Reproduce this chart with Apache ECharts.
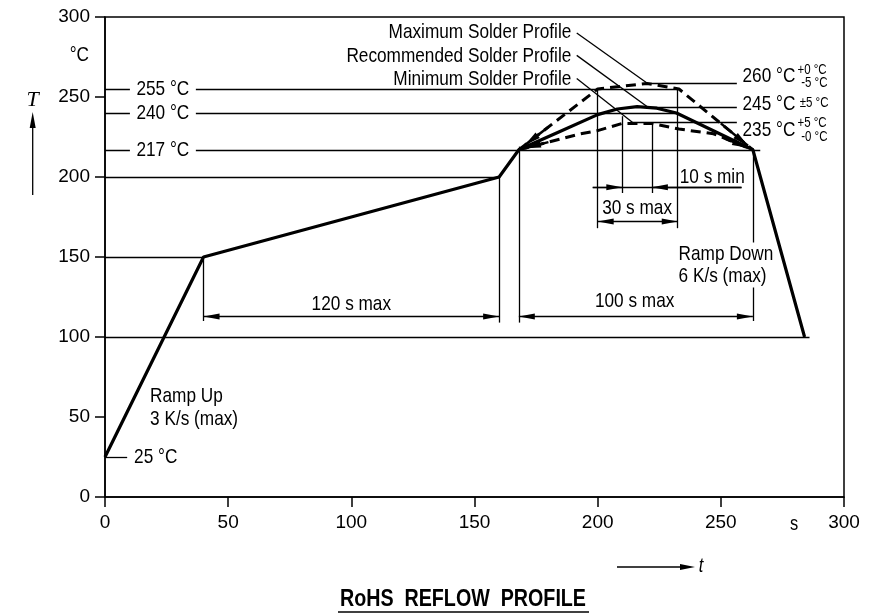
<!DOCTYPE html>
<html><head><meta charset="utf-8">
<script src="https://cdn.jsdelivr.net/npm/echarts@6/dist/echarts.min.js"></script>
<style>html,body{margin:0;padding:0;background:#fff}#c{width:884px;height:615px}</style>
</head><body><div id="c"></div>
<script>
const FONT = "'Liberation Sans',Arial,sans-serif";
const NARROW = 0.82; // horizontal squeeze to imitate a narrow face
// axis ticks
const xTicks = [0, 50, 100, 150, 200, 250, 300];
const yTicks = [0, 50, 100, 150, 200, 250, 300];
// main (solid) profile incl. recommended peak
const mainTime = [0, 40, 160, 168, 184, 200, 208, 216, 224, 232, 263, 284];
const mainTemp = [25, 150, 200, 217, 228, 239, 242.5, 244, 243, 240, 217, 100];
// maximum solder profile (dashed)
const maxTime = [168, 200, 220, 233, 263];
const maxTemp = [217, 255, 258.5, 255, 217];
// minimum solder profile (dashed)
const minTime = [168, 193, 200, 210, 222, 233, 247, 263];
const minTemp = [217, 227, 229, 233.5, 233.5, 230, 227, 217];
// horizontal reference lines: [temp, tFrom, tTo]
const hLines = [[25,0,9],[100,0,286],[150,0,40],[200,0,160],[217,0,266],[240,0,232],[255,0,232.5],[258.5,220,256.5],[243.5,221,256.5],[234,214,256.5]];
// vertical reference lines: [time, tempFrom, tempTo]
const vLines = [[40,150,110],[160,200,109],[168,219,109],[263,217,110],[200,255,168],[210,238,190],[222,234,190],[232.5,255,168]];
// leader lines: [t1, T1, t2, T2]
const leaders = [[191.5,290,220.3,258.4],[191.5,276,221,243],[191.5,261.5,214.2,234]];
// dimension arrows (outward heads): [temp, tFrom, tTo]
const dims = [[112.8,40,160],[112.8,168,263],[172.2,200,232.5]];
// "10 s min" dimension: [temp, lineFrom, lineTo, arrowA, arrowB]
const minDim = [193.6, 198, 258.4, 210, 222];
// arrowheads at the ends of the dashed profiles: [tFrom, TFrom, tTip, TTip]
const dashArrows = [[180,231.3,170.5,220],[180,221.8,170.5,218],[250,233.5,261,219.5],[252,223.9,261,218.3]];
// text annotations: [text, time, temp, align, size, whiteBgPadding]
const notes = [
  ['255 °C', 23.5, 255, 'center', 21, 8],
  ['240 °C', 23.5, 240, 'center', 21, 8],
  ['217 °C', 23.5, 217, 'center', 21, 8],
  ['25 °C', 11.8, 25, 'left', 21, 0],
  ['Ramp Up', 18.3, 63.1, 'left', 21, 0],
  ['3 K/s (max)', 18.3, 48.7, 'left', 21, 0],
  ['120 s max', 100, 120.6, 'center', 21, 0],
  ['100 s max', 215, 122.5, 'center', 21, 0],
  ['30 s max', 216, 180.6, 'center', 21, 0],
  ['10 s min', 233.3, 199.7, 'left', 21, 0],
  ['Ramp Down', 232.5, 151.9, 'left', 21, 1],
  ['6 K/s (max)', 232.5, 138.1, 'left', 21, 1],
  ['Maximum Solder Profile', 189.3, 290.3, 'right', 21, 0],
  ['Recommended Solder Profile', 189.3, 275.6, 'right', 21, 0],
  ['Minimum Solder Profile', 189.3, 261.3, 'right', 21, 0],
  ['260 °C', 258.8, 262.8, 'left', 21, 0],
  ['+0 °C', 281.1, 266.6, 'left', 14, 0],
  ['-5 °C', 282.6, 258.4, 'left', 14, 0],
  ['245 °C', 258.8, 245.3, 'left', 21, 0],
  ['±5 °C', 282, 246.3, 'left', 14, 0],
  ['235 °C', 258.8, 229.4, 'left', 21, 0],
  ['+5 °C', 281.1, 233.4, 'left', 14, 0],
  ['-0 °C', 282.6, 224.7, 'left', 14, 0]
];

const P = (ts, Ts) => ts.map((t, i) => [t, Ts[i]]);
const ARROW = 'path://M0,0L3,16L-3,16Z M0,-16L0,-16';
const AS = [6, 32];
const AS2 = [7, 32];

const segs = [];
hLines.forEach(([T, a, b]) => segs.push([{coord: [a, T]}, {coord: [b, T]}]));
vLines.forEach(([t, a, b]) => segs.push([{coord: [t, a]}, {coord: [t, b]}]));
leaders.forEach(([a, b, c, d]) => segs.push([{coord: [a, b]}, {coord: [c, d]}]));
dims.forEach(([T, a, b]) => segs.push([{coord: [a, T], symbol: ARROW, symbolSize: AS}, {coord: [b, T], symbol: ARROW, symbolSize: AS}]));
segs.push([{coord: [minDim[1], minDim[0]]}, {coord: [minDim[2], minDim[0]]}]);
segs.push([{coord: [minDim[1], minDim[0]]}, {coord: [minDim[3], minDim[0]], symbol: ARROW, symbolSize: AS}]);
segs.push([{coord: [minDim[2], minDim[0]]}, {coord: [minDim[4], minDim[0]], symbol: ARROW, symbolSize: AS}]);
const arrowSegs = dashArrows.map(([a, b, c, d]) => [{coord: [a, b]}, {coord: [c, d], symbol: ARROW, symbolSize: AS2}]);

const axisCommon = {
  type: 'value', min: 0, max: 300, interval: 50,
  axisLine: {show: true, onZero: false, lineStyle: {color: '#000', width: 1.5}},
  axisTick: {show: true, length: 10, lineStyle: {color: '#000', width: 1.5}},
  splitLine: {show: false}
};

const chart = echarts.init(document.getElementById('c'));
chart.setOption({
  animation: false,
  backgroundColor: '#fff',
  grid: {left: 105, right: 40, top: 17, bottom: 118, show: true, borderColor: '#000', borderWidth: 1.5},
  xAxis: Object.assign({}, axisCommon, {
    axisLabel: {color: '#000', fontFamily: FONT, fontSize: 19, margin: 16,
      formatter: v => xTicks.includes(v) ? String(v) : ''}
  }),
  yAxis: Object.assign({}, axisCommon, {
    axisLabel: {color: '#000', fontFamily: FONT, fontSize: 19, margin: 15,
      formatter: v => yTicks.includes(v) ? String(v) : ''}
  }),
  series: [
    {
      name: 'refs', type: 'line', data: [], silent: true,
      markLine: {
        silent: true, symbol: 'none', animation: false,
        label: {show: false},
        lineStyle: {color: '#000', width: 1.3, type: 'solid'},
        emphasis: {disabled: true},
        data: segs
      }
    },
    {
      name: 'Maximum Solder Profile', type: 'line', data: P(maxTime, maxTemp), showSymbol: false, silent: true, z: 4,
      lineStyle: {color: '#000', width: 3, type: [10, 6]},
      markLine: {
        silent: true, symbol: 'none', animation: false, label: {show: false},
        lineStyle: {color: '#000', width: 2.5, type: 'solid'},
        emphasis: {disabled: true},
        data: arrowSegs
      }
    },
    {
      name: 'Minimum Solder Profile', type: 'line', data: P(minTime, minTemp), showSymbol: false, silent: true, z: 4,
      lineStyle: {color: '#000', width: 3, type: [10, 6]}
    },
    {
      name: 'Recommended Solder Profile', type: 'line', data: P(mainTime, mainTemp), showSymbol: false, silent: true, z: 5,
      lineStyle: {color: '#000', width: 3.2}
    }
  ]
});

function txt(text, x, y, align, size, pad, extra) {
  const style = {text: text, fill: '#000', font: (extra || '') + size + 'px ' + FONT,
    textAlign: align, textVerticalAlign: 'middle'};
  if (pad) { style.backgroundColor = '#fff'; style.padding = [1, pad]; }
  return {type: 'text', x: x, y: y, scaleX: NARROW, scaleY: 1, z: 100, style: style};
}
const g = [];
notes.forEach(([text, t, T, align, size, pad]) => {
  const p = chart.convertToPixel({gridIndex: 0}, [t, T]);
  g.push(txt(text, p[0], p[1], align, size, pad));
});
g.push(txt('°C', 89, 55.5, 'right', 21, 0));
g.push({type: 'text', x: 32.5, y: 100.5, z: 100, style: {text: 'T', fill: '#000', font: "italic 22px 'Liberation Serif','DejaVu Serif',serif", textAlign: 'center', textVerticalAlign: 'middle'}});
g.push({type: 'line', shape: {x1: 32.7, y1: 195, x2: 32.7, y2: 124}, style: {stroke: '#000', lineWidth: 1.3}});
g.push({type: 'polygon', shape: {points: [[32.7, 112], [35.7, 128], [29.7, 128]]}, style: {fill: '#000'}});
g.push(txt('s', 794, 524, 'center', 20, 0));
g.push({type: 'line', shape: {x1: 617, y1: 567, x2: 684, y2: 567}, style: {stroke: '#000', lineWidth: 1.3}});
g.push({type: 'polygon', shape: {points: [[695, 567], [680, 564], [680, 570]]}, style: {fill: '#000'}});
g.push(txt('t', 701, 566, 'center', 20, 0, 'italic '));
g.push(txt('RoHS  REFLOW  PROFILE', 463, 599, 'center', 24, 0, 'bold '));
g.push({type: 'line', shape: {x1: 338, y1: 612, x2: 589, y2: 612}, style: {stroke: '#000', lineWidth: 1.5}});
chart.setOption({graphic: g});
</script>
</body></html>
